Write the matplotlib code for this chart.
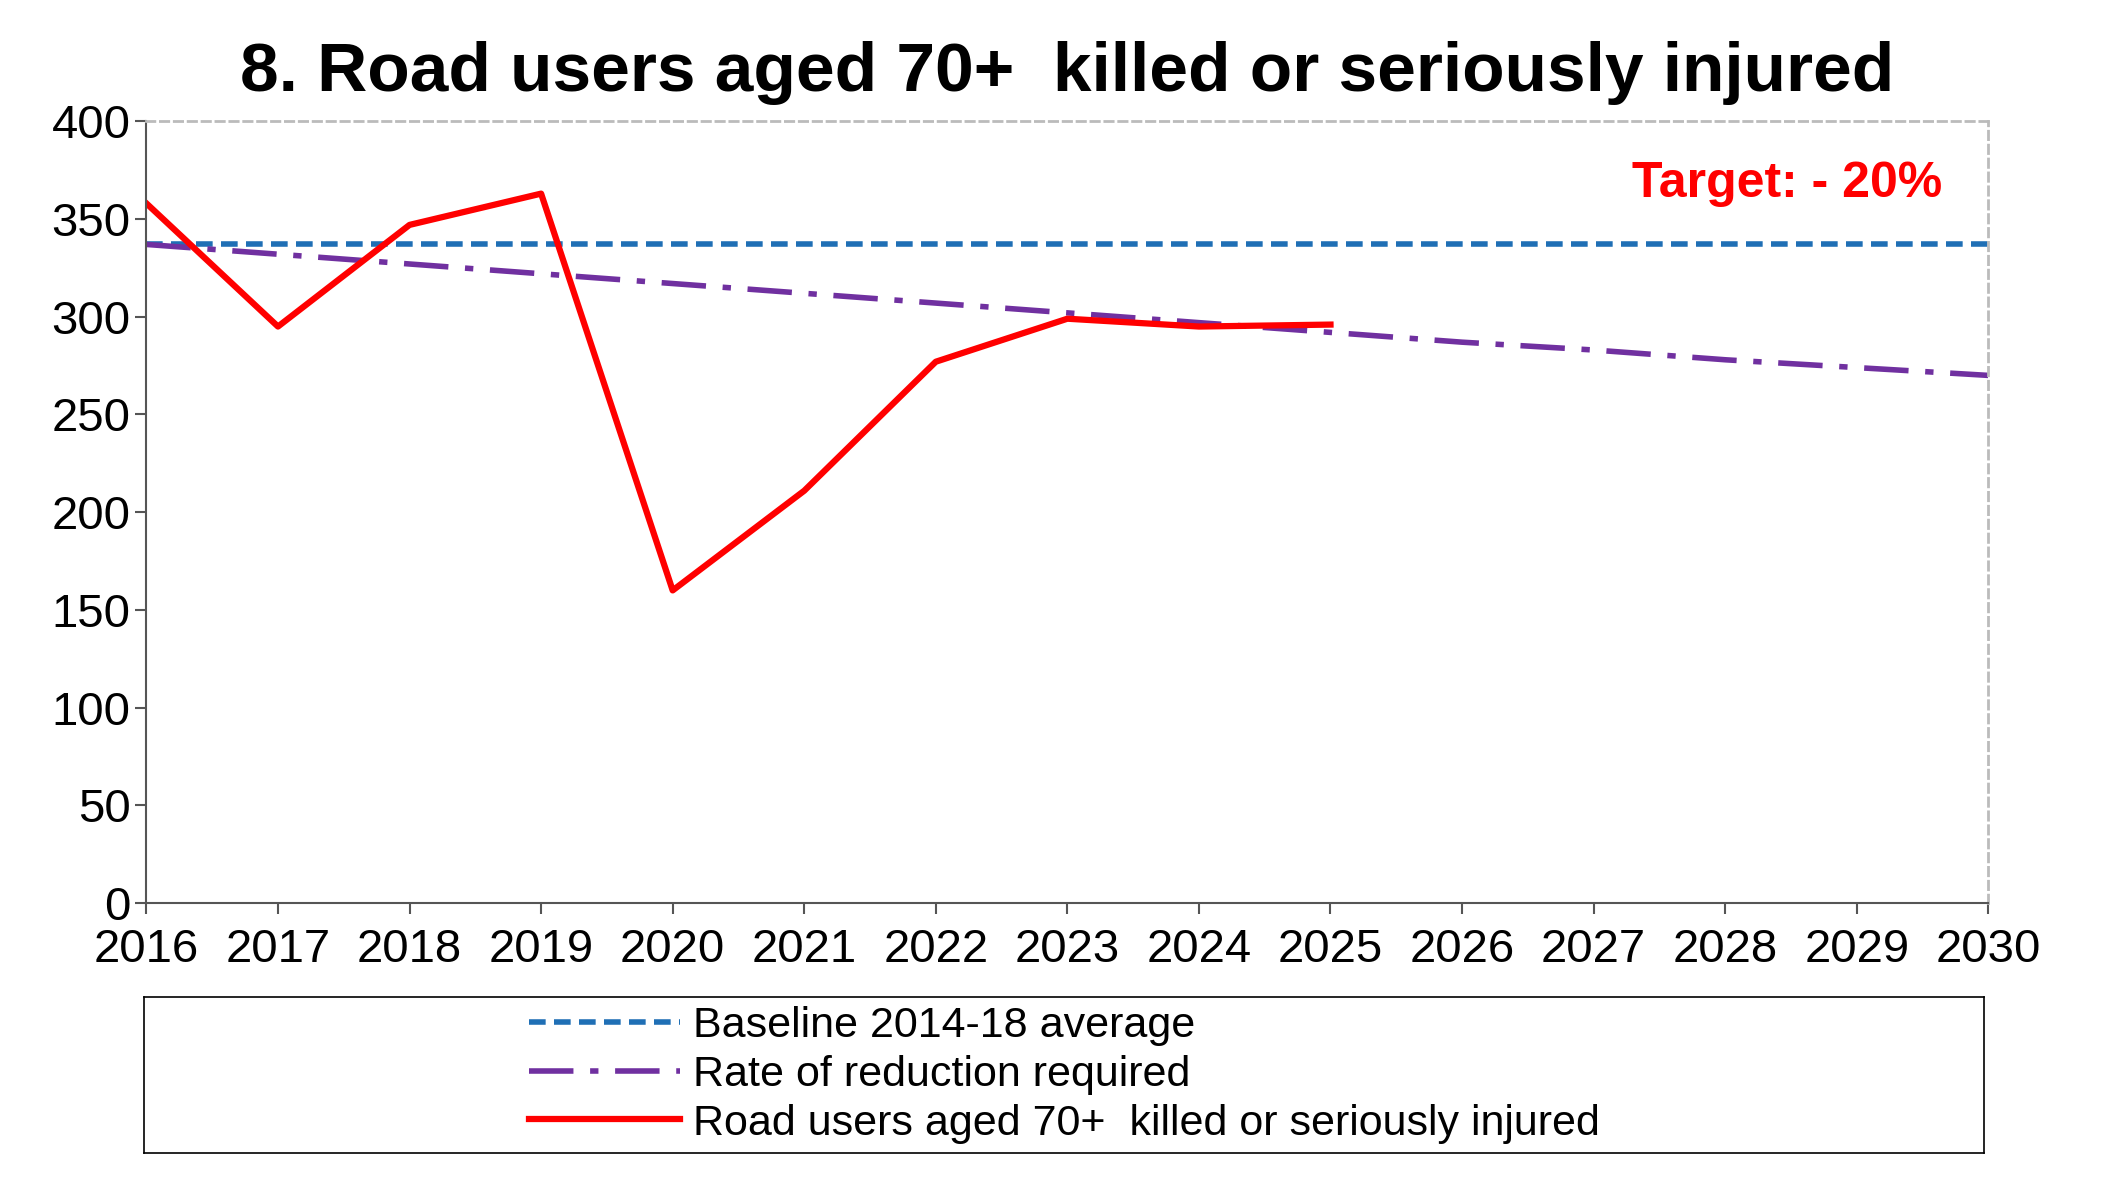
import matplotlib.pyplot as plt

years = list(range(2016, 2031))
actual_years = list(range(2016, 2026))
actual = [358, 295, 347, 363, 160, 211, 277, 299, 295, 296]
baseline = [337] * len(years)
reduction = [337, 332, 327, 322, 317, 312, 307, 302, 297, 292, 287, 283, 278, 274, 270]

plt.rcParams['font.family'] = ['Liberation Sans', 'DejaVu Sans']

fig = plt.figure(figsize=(21.22, 12.01), dpi=100)
ax = fig.add_axes([0.069, 0.248, 0.868, 0.651])

l1, = ax.plot(years, baseline, color='#1f6fb5', lw=4, ls=(0, (3, 1.5)))
l2, = ax.plot(years, reduction, color='#7030a0', lw=4, ls=(0, (8, 3, 1.5, 3)))
l3, = ax.plot(actual_years, actual, color='#ff0000', lw=4.5)

ax.set_xlim(2016, 2030)
ax.set_ylim(0, 400)
ax.set_xticks(years)
ax.set_yticks(range(0, 401, 50))
ax.tick_params(axis='both', labelsize=34, length=8, width=1.5, color='#555555')
ax.tick_params(axis='x', pad=10)
for s in ['top', 'right']:
    ax.spines[s].set_linestyle((0, (3, 2)))
    ax.spines[s].set_color('#bbbbbb')
    ax.spines[s].set_linewidth(2)
for s in ['left', 'bottom']:
    ax.spines[s].set_color('#555555')
    ax.spines[s].set_linewidth(1.5)

ax.set_title('8. Road users aged 70+  killed or seriously injured',
             fontsize=50, fontweight='bold', pad=22)
ax.text(0.975, 0.92, 'Target: - 20%', transform=ax.transAxes, ha='right', va='center',
        color='#ff0000', fontsize=36, fontweight='bold')

lax = fig.add_axes([0.068, 0.04, 0.867, 0.13])
lax.set_xticks([]); lax.set_yticks([])
for s in lax.spines.values():
    s.set_linewidth(1.2)
lax.legend([l1, l2, l3],
           ['Baseline 2014-18 average', 'Rate of reduction required',
            'Road users aged 70+  killed or seriously injured'],
           loc='center', bbox_to_anchor=(0.5, 0.5), frameon=False, fontsize=31,
           handlelength=3.5, labelspacing=0.2, handletextpad=0.3, borderpad=0)

fig.savefig('out.png', dpi=100)
